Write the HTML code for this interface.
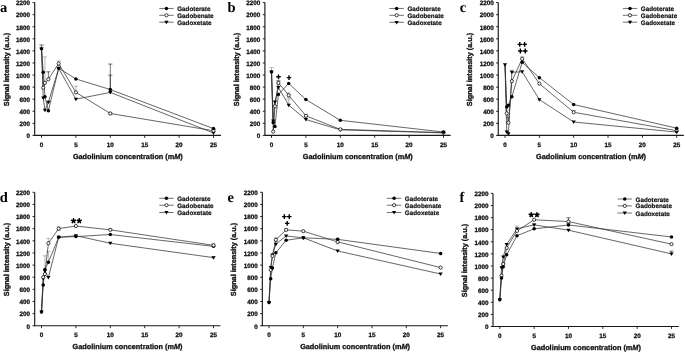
<!DOCTYPE html>
<html><head><meta charset="utf-8"><style>
html,body{margin:0;padding:0;background:#fff;}
body{width:685px;height:352px;overflow:hidden;}
svg{display:block;will-change:transform;text-rendering:geometricPrecision;}
.tk{font:bold 6.3px 'Liberation Sans', sans-serif;fill:#111;stroke:#111;stroke-width:0.28px;}
.ti{font:bold 7.3px 'Liberation Sans', sans-serif;fill:#111;stroke:#111;stroke-width:0.3px;}
.lg{font:bold 6.3px 'Liberation Sans', sans-serif;fill:#111;stroke:#111;stroke-width:0.2px;}
.pl{font:bold 14.5px 'Liberation Serif', serif;fill:#000;}
</style></head><body>
<svg width="685" height="352" viewBox="0 0 685 352">
<rect width="685" height="352" fill="#fff"/>
<g><path d="M41.50,48.78V44.98M39.40,44.98H43.60" stroke="#333" stroke-width="0.7" fill="none"/><path d="M44.94,82.88V56.93M42.84,56.93H47.04" stroke="#999" stroke-width="0.7" fill="none"/><path d="M48.38,79.26V71.84M46.28,71.84H50.48" stroke="#333" stroke-width="0.7" fill="none"/><path d="M58.70,63.57V60.97M56.60,60.97H60.80" stroke="#999" stroke-width="0.7" fill="none"/><path d="M58.70,63.57V65.98M56.60,65.98H60.80" stroke="#999" stroke-width="0.7" fill="none"/><path d="M75.90,92.36V86.08M73.80,86.08H78.00" stroke="#999" stroke-width="0.7" fill="none"/><path d="M110.30,89.52V64.05M108.20,64.05H112.40" stroke="#333" stroke-width="0.7" fill="none"/><path d="M110.30,92.42V75.16M108.20,75.16H112.40" stroke="#333" stroke-width="0.7" fill="none"/><path d="M110.30,113.49V112.28M108.20,112.28H112.40" stroke="#999" stroke-width="0.7" fill="none"/><path d="M110.30,113.49V114.70M108.20,114.70H112.40" stroke="#999" stroke-width="0.7" fill="none"/><path d="M213.50,130.75V129.36M211.40,129.36H215.60" stroke="#333" stroke-width="0.7" fill="none"/><polyline points="41.50,48.78 43.22,97.97 44.94,110.05 48.38,102.14 58.70,68.40 75.90,99.18 110.30,92.42 213.50,132.99" fill="none" stroke="#2b2b2b" stroke-width="0.72"/><polyline points="41.50,48.78 43.22,87.71 44.94,82.88 48.38,79.26 58.70,63.57 75.90,92.36 110.30,113.49 213.50,130.75" fill="none" stroke="#2b2b2b" stroke-width="0.72"/><polyline points="41.50,48.78 43.22,72.32 44.94,96.77 48.38,110.65 58.70,68.22 75.90,78.96 110.30,89.52 213.50,128.58" fill="none" stroke="#2b2b2b" stroke-width="0.72"/><path d="M41.12,96.57L45.32,96.57L43.22,100.07Z" fill="#000"/><path d="M42.84,108.65L47.04,108.65L44.94,112.15Z" fill="#000"/><path d="M46.28,100.74L50.48,100.74L48.38,104.24Z" fill="#000"/><path d="M56.60,67.00L60.80,67.00L58.70,70.50Z" fill="#000"/><path d="M73.80,97.78L78.00,97.78L75.90,101.28Z" fill="#000"/><path d="M108.20,91.02L112.40,91.02L110.30,94.52Z" fill="#000"/><path d="M211.40,131.59L215.60,131.59L213.50,135.09Z" fill="#000"/><circle cx="43.22" cy="87.71" r="1.6" fill="#fff" stroke="#000" stroke-width="0.75"/><circle cx="44.94" cy="82.88" r="1.6" fill="#fff" stroke="#000" stroke-width="0.75"/><circle cx="48.38" cy="79.26" r="1.6" fill="#fff" stroke="#000" stroke-width="0.75"/><circle cx="58.70" cy="63.57" r="1.6" fill="#fff" stroke="#000" stroke-width="0.75"/><circle cx="75.90" cy="92.36" r="1.6" fill="#fff" stroke="#000" stroke-width="0.75"/><circle cx="110.30" cy="113.49" r="1.6" fill="#fff" stroke="#000" stroke-width="0.75"/><circle cx="213.50" cy="130.75" r="1.6" fill="#fff" stroke="#000" stroke-width="0.75"/><circle cx="43.22" cy="72.32" r="1.75" fill="#000"/><circle cx="44.94" cy="96.77" r="1.75" fill="#000"/><circle cx="48.38" cy="110.65" r="1.75" fill="#000"/><circle cx="58.70" cy="68.22" r="1.75" fill="#000"/><circle cx="75.90" cy="78.96" r="1.75" fill="#000"/><circle cx="110.30" cy="89.52" r="1.75" fill="#000"/><circle cx="213.50" cy="128.58" r="1.75" fill="#000"/><path d="M39.40,47.38L43.60,47.38L41.50,50.88Z" fill="#000"/><circle cx="41.50" cy="48.78" r="1.75" fill="#000"/><path d="M34.70,2.60V135.40H221.00" stroke="#1a1a1a" stroke-width="1.15" fill="none"/><path d="M32.50,135.40H34.70M32.50,123.33H34.70M32.50,111.25H34.70M32.50,99.18H34.70M32.50,87.11H34.70M32.50,75.04H34.70M32.50,62.96H34.70M32.50,50.89H34.70M32.50,38.82H34.70M32.50,26.75H34.70M32.50,14.67H34.70M32.50,2.60H34.70M41.50,135.40V137.80M75.90,135.40V137.80M110.30,135.40V137.80M144.70,135.40V137.80M179.10,135.40V137.80M213.50,135.40V137.80" stroke="#111" stroke-width="0.9" fill="none"/><text x="30.10" y="138.15" text-anchor="end" class="tk">0</text><text x="30.10" y="126.08" text-anchor="end" class="tk">200</text><text x="30.10" y="114.00" text-anchor="end" class="tk">400</text><text x="30.10" y="101.93" text-anchor="end" class="tk">600</text><text x="30.10" y="89.86" text-anchor="end" class="tk">800</text><text x="30.10" y="77.79" text-anchor="end" class="tk">1000</text><text x="30.10" y="65.71" text-anchor="end" class="tk">1200</text><text x="30.10" y="53.64" text-anchor="end" class="tk">1400</text><text x="30.10" y="41.57" text-anchor="end" class="tk">1600</text><text x="30.10" y="29.50" text-anchor="end" class="tk">1800</text><text x="30.10" y="17.42" text-anchor="end" class="tk">2000</text><text x="30.10" y="5.35" text-anchor="end" class="tk">2200</text><text x="41.50" y="146.70" text-anchor="middle" class="tk">0</text><text x="75.90" y="146.70" text-anchor="middle" class="tk">5</text><text x="110.30" y="146.70" text-anchor="middle" class="tk">10</text><text x="144.70" y="146.70" text-anchor="middle" class="tk">15</text><text x="179.10" y="146.70" text-anchor="middle" class="tk">20</text><text x="213.50" y="146.70" text-anchor="middle" class="tk">25</text><text x="127.85" y="159.00" text-anchor="middle" class="ti">Gadolinium concentration (m<tspan font-style="italic">M</tspan>)</text><text transform="translate(9.40,69.50) rotate(-90)" text-anchor="middle" class="ti">Signal intensity (a.u.)</text><text x="0.00" y="12.00" class="pl">a</text><path d="M159.25,8.45H173.65" stroke="#333" stroke-width="0.7"/><circle cx="166.45" cy="8.45" r="1.75" fill="#000"/><text x="177.20" y="10.95" class="lg">Gadoterate</text><path d="M159.25,15.30H173.65" stroke="#333" stroke-width="0.7"/><circle cx="166.45" cy="15.30" r="1.6" fill="#fff" stroke="#000" stroke-width="0.75"/><text x="177.20" y="17.80" class="lg">Gadobenate</text><path d="M159.25,22.20H173.65" stroke="#333" stroke-width="0.7"/><path d="M164.35,20.80L168.55,20.80L166.45,24.30Z" fill="#000"/><text x="177.20" y="24.70" class="lg">Gadoxetate</text></g><g><path d="M271.50,71.96V67.55M269.40,67.55H273.60" stroke="#999" stroke-width="0.7" fill="none"/><path d="M278.38,82.82V80.77M276.28,80.77H280.48" stroke="#333" stroke-width="0.7" fill="none"/><path d="M278.38,82.82V84.94M276.28,84.94H280.48" stroke="#999" stroke-width="0.7" fill="none"/><path d="M288.70,95.32V92.90M286.60,92.90H290.80" stroke="#999" stroke-width="0.7" fill="none"/><path d="M288.70,95.32V97.73M286.60,97.73H290.80" stroke="#999" stroke-width="0.7" fill="none"/><path d="M288.70,105.10V99.18M286.60,99.18H290.80" stroke="#999" stroke-width="0.7" fill="none"/><path d="M305.90,115.84V114.63M303.80,114.63H308.00" stroke="#999" stroke-width="0.7" fill="none"/><path d="M305.90,115.84V117.05M303.80,117.05H308.00" stroke="#999" stroke-width="0.7" fill="none"/><polyline points="271.50,71.96 273.22,120.91 274.94,101.84 278.38,87.41 288.70,105.10 305.90,119.52 340.30,129.85 443.50,132.86" fill="none" stroke="#2b2b2b" stroke-width="0.72"/><polyline points="271.50,71.96 273.22,131.60 274.94,106.30 278.38,82.82 288.70,95.32 305.90,115.84 340.30,129.36 443.50,132.62" fill="none" stroke="#2b2b2b" stroke-width="0.72"/><polyline points="271.50,71.96 273.22,122.54 274.94,126.59 278.38,94.41 288.70,83.43 305.90,99.60 340.30,120.31 443.50,132.02" fill="none" stroke="#2b2b2b" stroke-width="0.72"/><path d="M271.12,119.51L275.32,119.51L273.22,123.01Z" fill="#000"/><path d="M272.84,100.44L277.04,100.44L274.94,103.94Z" fill="#000"/><path d="M276.28,86.01L280.48,86.01L278.38,89.51Z" fill="#000"/><path d="M286.60,103.70L290.80,103.70L288.70,107.20Z" fill="#000"/><path d="M303.80,118.12L308.00,118.12L305.90,121.62Z" fill="#000"/><path d="M338.20,128.45L342.40,128.45L340.30,131.95Z" fill="#000"/><path d="M441.40,131.46L445.60,131.46L443.50,134.96Z" fill="#000"/><circle cx="273.22" cy="131.60" r="1.6" fill="#fff" stroke="#000" stroke-width="0.75"/><circle cx="274.94" cy="106.30" r="1.6" fill="#fff" stroke="#000" stroke-width="0.75"/><circle cx="278.38" cy="82.82" r="1.6" fill="#fff" stroke="#000" stroke-width="0.75"/><circle cx="288.70" cy="95.32" r="1.6" fill="#fff" stroke="#000" stroke-width="0.75"/><circle cx="305.90" cy="115.84" r="1.6" fill="#fff" stroke="#000" stroke-width="0.75"/><circle cx="340.30" cy="129.36" r="1.6" fill="#fff" stroke="#000" stroke-width="0.75"/><circle cx="443.50" cy="132.62" r="1.6" fill="#fff" stroke="#000" stroke-width="0.75"/><circle cx="273.22" cy="122.54" r="1.75" fill="#000"/><circle cx="274.94" cy="126.59" r="1.75" fill="#000"/><circle cx="278.38" cy="94.41" r="1.75" fill="#000"/><circle cx="288.70" cy="83.43" r="1.75" fill="#000"/><circle cx="305.90" cy="99.60" r="1.75" fill="#000"/><circle cx="340.30" cy="120.31" r="1.75" fill="#000"/><circle cx="443.50" cy="132.02" r="1.75" fill="#000"/><path d="M269.40,70.56L273.60,70.56L271.50,74.06Z" fill="#000"/><circle cx="271.50" cy="71.96" r="1.75" fill="#000"/><path d="M264.90,2.60V135.40H450.60" stroke="#1a1a1a" stroke-width="1.15" fill="none"/><path d="M262.70,135.40H264.90M262.70,123.33H264.90M262.70,111.25H264.90M262.70,99.18H264.90M262.70,87.11H264.90M262.70,75.04H264.90M262.70,62.96H264.90M262.70,50.89H264.90M262.70,38.82H264.90M262.70,26.75H264.90M262.70,14.67H264.90M262.70,2.60H264.90M271.50,135.40V137.80M305.90,135.40V137.80M340.30,135.40V137.80M374.70,135.40V137.80M409.10,135.40V137.80M443.50,135.40V137.80" stroke="#111" stroke-width="0.9" fill="none"/><text x="260.30" y="138.15" text-anchor="end" class="tk">0</text><text x="260.30" y="126.08" text-anchor="end" class="tk">200</text><text x="260.30" y="114.00" text-anchor="end" class="tk">400</text><text x="260.30" y="101.93" text-anchor="end" class="tk">600</text><text x="260.30" y="89.86" text-anchor="end" class="tk">800</text><text x="260.30" y="77.79" text-anchor="end" class="tk">1000</text><text x="260.30" y="65.71" text-anchor="end" class="tk">1200</text><text x="260.30" y="53.64" text-anchor="end" class="tk">1400</text><text x="260.30" y="41.57" text-anchor="end" class="tk">1600</text><text x="260.30" y="29.50" text-anchor="end" class="tk">1800</text><text x="260.30" y="17.42" text-anchor="end" class="tk">2000</text><text x="260.30" y="5.35" text-anchor="end" class="tk">2200</text><text x="271.50" y="146.70" text-anchor="middle" class="tk">0</text><text x="305.90" y="146.70" text-anchor="middle" class="tk">5</text><text x="340.30" y="146.70" text-anchor="middle" class="tk">10</text><text x="374.70" y="146.70" text-anchor="middle" class="tk">15</text><text x="409.10" y="146.70" text-anchor="middle" class="tk">20</text><text x="443.50" y="146.70" text-anchor="middle" class="tk">25</text><text x="357.75" y="159.00" text-anchor="middle" class="ti">Gadolinium concentration (m<tspan font-style="italic">M</tspan>)</text><text transform="translate(238.60,69.50) rotate(-90)" text-anchor="middle" class="ti">Signal intensity (a.u.)</text><text x="227.60" y="12.00" class="pl">b</text><path d="M389.45,8.45H403.85" stroke="#333" stroke-width="0.7"/><circle cx="396.65" cy="8.45" r="1.75" fill="#000"/><text x="407.40" y="10.95" class="lg">Gadoterate</text><path d="M389.45,15.30H403.85" stroke="#333" stroke-width="0.7"/><circle cx="396.65" cy="15.30" r="1.6" fill="#fff" stroke="#000" stroke-width="0.75"/><text x="407.40" y="17.80" class="lg">Gadobenate</text><path d="M389.45,22.30H403.85" stroke="#333" stroke-width="0.7"/><path d="M394.55,20.90L398.75,20.90L396.65,24.40Z" fill="#000"/><text x="407.40" y="24.80" class="lg">Gadoxetate</text><path d="M276.25,76.80H280.75M278.50,74.40V79.20" stroke="#000" stroke-width="1.4"/><path d="M286.75,77.60H291.25M289.00,75.20V80.00" stroke="#000" stroke-width="1.4"/></g><g><path d="M522.17,58.74V56.93M520.07,56.93H524.27" stroke="#999" stroke-width="0.7" fill="none"/><path d="M508.43,122.72V117.29M506.33,117.29H510.53" stroke="#999" stroke-width="0.7" fill="none"/><path d="M506.72,113.37V110.05M504.62,110.05H508.82" stroke="#999" stroke-width="0.7" fill="none"/><path d="M511.87,72.26V70.21M509.77,70.21H513.97" stroke="#999" stroke-width="0.7" fill="none"/><path d="M573.68,112.28V110.47M571.58,110.47H575.78" stroke="#999" stroke-width="0.7" fill="none"/><polyline points="505.00,64.65 506.72,131.90 508.43,133.71 511.87,72.26 522.17,71.72 539.34,99.54 573.68,122.00 676.70,132.08" fill="none" stroke="#2b2b2b" stroke-width="0.72"/><polyline points="505.00,64.65 506.72,113.37 508.43,122.72 511.87,81.13 522.17,58.74 539.34,83.61 573.68,112.28 676.70,130.69" fill="none" stroke="#2b2b2b" stroke-width="0.72"/><polyline points="505.00,64.65 506.72,106.91 508.43,105.22 511.87,96.71 522.17,62.36 539.34,77.63 573.68,104.55 676.70,128.16" fill="none" stroke="#2b2b2b" stroke-width="0.72"/><circle cx="506.72" cy="113.37" r="1.6" fill="#fff" stroke="#000" stroke-width="0.75"/><circle cx="508.43" cy="122.72" r="1.6" fill="#fff" stroke="#000" stroke-width="0.75"/><circle cx="511.87" cy="81.13" r="1.6" fill="#fff" stroke="#000" stroke-width="0.75"/><circle cx="522.17" cy="58.74" r="1.6" fill="#fff" stroke="#000" stroke-width="0.75"/><circle cx="539.34" cy="83.61" r="1.6" fill="#fff" stroke="#000" stroke-width="0.75"/><circle cx="573.68" cy="112.28" r="1.6" fill="#fff" stroke="#000" stroke-width="0.75"/><circle cx="676.70" cy="130.69" r="1.6" fill="#fff" stroke="#000" stroke-width="0.75"/><circle cx="506.72" cy="106.91" r="1.75" fill="#000"/><circle cx="508.43" cy="105.22" r="1.75" fill="#000"/><circle cx="511.87" cy="96.71" r="1.75" fill="#000"/><circle cx="522.17" cy="62.36" r="1.75" fill="#000"/><circle cx="539.34" cy="77.63" r="1.75" fill="#000"/><circle cx="573.68" cy="104.55" r="1.75" fill="#000"/><circle cx="676.70" cy="128.16" r="1.75" fill="#000"/><path d="M504.62,130.50L508.82,130.50L506.72,134.00Z" fill="#000"/><path d="M506.33,132.31L510.53,132.31L508.43,135.81Z" fill="#000"/><path d="M509.77,70.86L513.97,70.86L511.87,74.36Z" fill="#000"/><path d="M520.07,70.32L524.27,70.32L522.17,73.82Z" fill="#000"/><path d="M537.24,98.14L541.44,98.14L539.34,101.64Z" fill="#000"/><path d="M571.58,120.60L575.78,120.60L573.68,124.10Z" fill="#000"/><path d="M674.60,130.68L678.80,130.68L676.70,134.18Z" fill="#000"/><path d="M502.90,63.25L507.10,63.25L505.00,66.75Z" fill="#000"/><path d="M498.27,2.60V135.40H683.80" stroke="#1a1a1a" stroke-width="1.15" fill="none"/><path d="M496.07,135.40H498.27M496.07,123.33H498.27M496.07,111.25H498.27M496.07,99.18H498.27M496.07,87.11H498.27M496.07,75.04H498.27M496.07,62.96H498.27M496.07,50.89H498.27M496.07,38.82H498.27M496.07,26.75H498.27M496.07,14.67H498.27M496.07,2.60H498.27M505.00,135.40V137.80M539.34,135.40V137.80M573.68,135.40V137.80M608.02,135.40V137.80M642.36,135.40V137.80M676.70,135.40V137.80" stroke="#111" stroke-width="0.9" fill="none"/><text x="493.67" y="138.15" text-anchor="end" class="tk">0</text><text x="493.67" y="126.08" text-anchor="end" class="tk">200</text><text x="493.67" y="114.00" text-anchor="end" class="tk">400</text><text x="493.67" y="101.93" text-anchor="end" class="tk">600</text><text x="493.67" y="89.86" text-anchor="end" class="tk">800</text><text x="493.67" y="77.79" text-anchor="end" class="tk">1000</text><text x="493.67" y="65.71" text-anchor="end" class="tk">1200</text><text x="493.67" y="53.64" text-anchor="end" class="tk">1400</text><text x="493.67" y="41.57" text-anchor="end" class="tk">1600</text><text x="493.67" y="29.50" text-anchor="end" class="tk">1800</text><text x="493.67" y="17.42" text-anchor="end" class="tk">2000</text><text x="493.67" y="5.35" text-anchor="end" class="tk">2200</text><text x="505.00" y="146.70" text-anchor="middle" class="tk">0</text><text x="539.34" y="146.70" text-anchor="middle" class="tk">5</text><text x="573.68" y="146.70" text-anchor="middle" class="tk">10</text><text x="608.02" y="146.70" text-anchor="middle" class="tk">15</text><text x="642.36" y="146.70" text-anchor="middle" class="tk">20</text><text x="676.70" y="146.70" text-anchor="middle" class="tk">25</text><text x="591.03" y="159.00" text-anchor="middle" class="ti">Gadolinium concentration (m<tspan font-style="italic">M</tspan>)</text><text transform="translate(472.47,69.50) rotate(-90)" text-anchor="middle" class="ti">Signal intensity (a.u.)</text><text x="459.80" y="11.50" class="pl">c</text><path d="M622.82,8.45H637.22" stroke="#333" stroke-width="0.7"/><circle cx="630.02" cy="8.45" r="1.75" fill="#000"/><text x="640.77" y="10.95" class="lg">Gadoterate</text><path d="M622.82,15.30H637.22" stroke="#333" stroke-width="0.7"/><circle cx="630.02" cy="15.30" r="1.6" fill="#fff" stroke="#000" stroke-width="0.75"/><text x="640.77" y="17.80" class="lg">Gadobenate</text><path d="M622.82,22.20H637.22" stroke="#333" stroke-width="0.7"/><path d="M627.92,20.80L632.12,20.80L630.02,24.30Z" fill="#000"/><text x="640.77" y="24.70" class="lg">Gadoxetate</text><path d="M517.50,44.40H522.00M519.75,42.00V46.80" stroke="#000" stroke-width="1.4"/><path d="M522.40,44.40H526.90M524.65,42.00V46.80" stroke="#000" stroke-width="1.4"/><path d="M518.10,51.00H522.60M520.35,48.60V53.40" stroke="#000" stroke-width="1.4"/><path d="M523.00,51.00H527.50M525.25,48.60V53.40" stroke="#000" stroke-width="1.4"/></g><g><path d="M48.38,243.25V238.40M46.28,238.40H50.48" stroke="#999" stroke-width="0.7" fill="none"/><path d="M58.70,228.63V226.88M56.60,226.88H60.80" stroke="#999" stroke-width="0.7" fill="none"/><path d="M58.70,228.63V230.45M56.60,230.45H60.80" stroke="#999" stroke-width="0.7" fill="none"/><path d="M44.94,269.46V255.81M42.84,255.81H47.04" stroke="#999" stroke-width="0.7" fill="none"/><path d="M48.38,262.30V251.62M46.28,251.62H50.48" stroke="#999" stroke-width="0.7" fill="none"/><path d="M110.30,229.85V228.70M108.20,228.70H112.40" stroke="#999" stroke-width="0.7" fill="none"/><path d="M213.50,245.32V243.86M211.40,243.86H215.60" stroke="#999" stroke-width="0.7" fill="none"/><path d="M213.50,245.32V246.53M211.40,246.53H215.60" stroke="#999" stroke-width="0.7" fill="none"/><path d="M213.50,257.63V256.42M211.40,256.42H215.60" stroke="#999" stroke-width="0.7" fill="none"/><polyline points="41.50,311.92 43.22,278.44 44.94,271.16 48.38,277.47 58.70,237.25 75.90,235.73 110.30,243.25 213.50,257.63" fill="none" stroke="#2b2b2b" stroke-width="0.72"/><polyline points="41.50,311.92 43.22,277.22 44.94,274.07 48.38,243.25 58.70,228.63 75.90,226.03 110.30,229.85 213.50,245.32" fill="none" stroke="#2b2b2b" stroke-width="0.72"/><polyline points="41.50,311.92 43.22,285.05 44.94,269.46 48.38,262.30 58.70,237.25 75.90,236.58 110.30,234.52 213.50,246.35" fill="none" stroke="#2b2b2b" stroke-width="0.72"/><circle cx="43.22" cy="285.05" r="1.75" fill="#000"/><circle cx="44.94" cy="269.46" r="1.75" fill="#000"/><circle cx="48.38" cy="262.30" r="1.75" fill="#000"/><circle cx="58.70" cy="237.25" r="1.75" fill="#000"/><circle cx="75.90" cy="236.58" r="1.75" fill="#000"/><circle cx="110.30" cy="234.52" r="1.75" fill="#000"/><circle cx="213.50" cy="246.35" r="1.75" fill="#000"/><path d="M41.12,277.04L45.32,277.04L43.22,280.54Z" fill="#000"/><path d="M42.84,269.76L47.04,269.76L44.94,273.26Z" fill="#000"/><path d="M46.28,276.07L50.48,276.07L48.38,279.57Z" fill="#000"/><path d="M56.60,235.85L60.80,235.85L58.70,239.35Z" fill="#000"/><path d="M73.80,234.33L78.00,234.33L75.90,237.83Z" fill="#000"/><path d="M108.20,241.85L112.40,241.85L110.30,245.35Z" fill="#000"/><path d="M211.40,256.23L215.60,256.23L213.50,259.73Z" fill="#000"/><circle cx="43.22" cy="277.22" r="1.6" fill="#fff" stroke="#000" stroke-width="0.75"/><circle cx="44.94" cy="274.07" r="1.6" fill="#fff" stroke="#000" stroke-width="0.75"/><circle cx="48.38" cy="243.25" r="1.6" fill="#fff" stroke="#000" stroke-width="0.75"/><circle cx="58.70" cy="228.63" r="1.6" fill="#fff" stroke="#000" stroke-width="0.75"/><circle cx="75.90" cy="226.03" r="1.6" fill="#fff" stroke="#000" stroke-width="0.75"/><circle cx="110.30" cy="229.85" r="1.6" fill="#fff" stroke="#000" stroke-width="0.75"/><circle cx="213.50" cy="245.32" r="1.6" fill="#fff" stroke="#000" stroke-width="0.75"/><circle cx="41.50" cy="311.92" r="1.75" fill="#000"/><path d="M39.40,310.52L43.60,310.52L41.50,314.02Z" fill="#000"/><path d="M34.70,192.30V325.75H220.40" stroke="#1a1a1a" stroke-width="1.15" fill="none"/><path d="M32.50,325.75H34.70M32.50,313.62H34.70M32.50,301.49H34.70M32.50,289.35H34.70M32.50,277.22H34.70M32.50,265.09H34.70M32.50,252.96H34.70M32.50,240.83H34.70M32.50,228.70H34.70M32.50,216.56H34.70M32.50,204.43H34.70M32.50,192.30H34.70M41.50,325.75V328.15M75.90,325.75V328.15M110.30,325.75V328.15M144.70,325.75V328.15M179.10,325.75V328.15M213.50,325.75V328.15" stroke="#111" stroke-width="0.9" fill="none"/><text x="30.10" y="328.50" text-anchor="end" class="tk">0</text><text x="30.10" y="316.37" text-anchor="end" class="tk">200</text><text x="30.10" y="304.24" text-anchor="end" class="tk">400</text><text x="30.10" y="292.10" text-anchor="end" class="tk">600</text><text x="30.10" y="279.97" text-anchor="end" class="tk">800</text><text x="30.10" y="267.84" text-anchor="end" class="tk">1000</text><text x="30.10" y="255.71" text-anchor="end" class="tk">1200</text><text x="30.10" y="243.58" text-anchor="end" class="tk">1400</text><text x="30.10" y="231.45" text-anchor="end" class="tk">1600</text><text x="30.10" y="219.31" text-anchor="end" class="tk">1800</text><text x="30.10" y="207.18" text-anchor="end" class="tk">2000</text><text x="30.10" y="195.05" text-anchor="end" class="tk">2200</text><text x="41.50" y="337.05" text-anchor="middle" class="tk">0</text><text x="75.90" y="337.05" text-anchor="middle" class="tk">5</text><text x="110.30" y="337.05" text-anchor="middle" class="tk">10</text><text x="144.70" y="337.05" text-anchor="middle" class="tk">15</text><text x="179.10" y="337.05" text-anchor="middle" class="tk">20</text><text x="213.50" y="337.05" text-anchor="middle" class="tk">25</text><text x="127.55" y="349.35" text-anchor="middle" class="ti">Gadolinium concentration (m<tspan font-style="italic">M</tspan>)</text><text transform="translate(9.40,259.52) rotate(-90)" text-anchor="middle" class="ti">Signal intensity (a.u.)</text><text x="-0.30" y="202.20" class="pl">d</text><path d="M159.25,198.30H173.65" stroke="#333" stroke-width="0.7"/><circle cx="166.45" cy="198.30" r="1.75" fill="#000"/><text x="177.20" y="200.80" class="lg">Gadoterate</text><path d="M159.25,205.20H173.65" stroke="#333" stroke-width="0.7"/><circle cx="166.45" cy="205.20" r="1.6" fill="#fff" stroke="#000" stroke-width="0.75"/><text x="177.20" y="207.70" class="lg">Gadobenate</text><path d="M159.25,212.50H173.65" stroke="#333" stroke-width="0.7"/><path d="M164.35,211.10L168.55,211.10L166.45,214.60Z" fill="#000"/><text x="177.20" y="215.00" class="lg">Gadoxetate</text><path d="M73.55,220.90L73.55,218.85M73.55,220.90L75.50,220.27M73.55,220.90L74.75,222.56M73.55,220.90L72.35,222.56M73.55,220.90L71.60,220.27" stroke="#000" stroke-width="1.6" stroke-linecap="round" fill="none"/><path d="M79.25,220.90L79.25,218.85M79.25,220.90L81.20,220.27M79.25,220.90L80.45,222.56M79.25,220.90L78.05,222.56M79.25,220.90L77.30,220.27" stroke="#000" stroke-width="1.6" stroke-linecap="round" fill="none"/></g><g><path d="M337.64,241.86V238.40M335.54,238.40H339.74" stroke="#999" stroke-width="0.7" fill="none"/><path d="M337.64,241.86V243.86M335.54,243.86H339.74" stroke="#999" stroke-width="0.7" fill="none"/><path d="M275.86,239.80V237.79M273.76,237.79H277.96" stroke="#999" stroke-width="0.7" fill="none"/><path d="M275.86,239.80V241.62M273.76,241.62H277.96" stroke="#999" stroke-width="0.7" fill="none"/><path d="M286.16,229.85V228.70M284.06,228.70H288.26" stroke="#999" stroke-width="0.7" fill="none"/><polyline points="269.00,302.46 270.72,267.40 272.43,254.90 275.86,244.04 286.16,235.97 303.32,237.79 337.64,250.96 440.60,274.01" fill="none" stroke="#2b2b2b" stroke-width="0.72"/><polyline points="269.00,302.46 270.72,269.94 272.43,255.99 275.86,239.80 286.16,229.85 303.32,231.18 337.64,241.86 440.60,267.58" fill="none" stroke="#2b2b2b" stroke-width="0.72"/><polyline points="269.00,302.46 270.72,278.74 272.43,267.88 275.86,252.78 286.16,240.28 303.32,237.79 337.64,239.37 440.60,253.44" fill="none" stroke="#2b2b2b" stroke-width="0.72"/><path d="M268.62,266.00L272.82,266.00L270.72,269.50Z" fill="#000"/><path d="M270.33,253.50L274.53,253.50L272.43,257.00Z" fill="#000"/><path d="M273.76,242.64L277.96,242.64L275.86,246.14Z" fill="#000"/><path d="M284.06,234.57L288.26,234.57L286.16,238.07Z" fill="#000"/><path d="M301.22,236.39L305.42,236.39L303.32,239.89Z" fill="#000"/><path d="M335.54,249.56L339.74,249.56L337.64,253.06Z" fill="#000"/><path d="M438.50,272.61L442.70,272.61L440.60,276.11Z" fill="#000"/><circle cx="270.72" cy="269.94" r="1.6" fill="#fff" stroke="#000" stroke-width="0.75"/><circle cx="272.43" cy="255.99" r="1.6" fill="#fff" stroke="#000" stroke-width="0.75"/><circle cx="275.86" cy="239.80" r="1.6" fill="#fff" stroke="#000" stroke-width="0.75"/><circle cx="286.16" cy="229.85" r="1.6" fill="#fff" stroke="#000" stroke-width="0.75"/><circle cx="303.32" cy="231.18" r="1.6" fill="#fff" stroke="#000" stroke-width="0.75"/><circle cx="337.64" cy="241.86" r="1.6" fill="#fff" stroke="#000" stroke-width="0.75"/><circle cx="440.60" cy="267.58" r="1.6" fill="#fff" stroke="#000" stroke-width="0.75"/><circle cx="270.72" cy="278.74" r="1.75" fill="#000"/><circle cx="272.43" cy="267.88" r="1.75" fill="#000"/><circle cx="275.86" cy="252.78" r="1.75" fill="#000"/><circle cx="286.16" cy="240.28" r="1.75" fill="#000"/><circle cx="303.32" cy="237.79" r="1.75" fill="#000"/><circle cx="337.64" cy="239.37" r="1.75" fill="#000"/><circle cx="440.60" cy="253.44" r="1.75" fill="#000"/><path d="M266.90,301.06L271.10,301.06L269.00,304.56Z" fill="#000"/><circle cx="269.00" cy="302.46" r="1.75" fill="#000"/><path d="M262.35,192.30V325.75H447.80" stroke="#1a1a1a" stroke-width="1.15" fill="none"/><path d="M260.15,325.75H262.35M260.15,313.62H262.35M260.15,301.49H262.35M260.15,289.35H262.35M260.15,277.22H262.35M260.15,265.09H262.35M260.15,252.96H262.35M260.15,240.83H262.35M260.15,228.70H262.35M260.15,216.56H262.35M260.15,204.43H262.35M260.15,192.30H262.35M269.00,325.75V328.15M303.32,325.75V328.15M337.64,325.75V328.15M371.96,325.75V328.15M406.28,325.75V328.15M440.60,325.75V328.15" stroke="#111" stroke-width="0.9" fill="none"/><text x="257.75" y="328.50" text-anchor="end" class="tk">0</text><text x="257.75" y="316.37" text-anchor="end" class="tk">200</text><text x="257.75" y="304.24" text-anchor="end" class="tk">400</text><text x="257.75" y="292.10" text-anchor="end" class="tk">600</text><text x="257.75" y="279.97" text-anchor="end" class="tk">800</text><text x="257.75" y="267.84" text-anchor="end" class="tk">1000</text><text x="257.75" y="255.71" text-anchor="end" class="tk">1200</text><text x="257.75" y="243.58" text-anchor="end" class="tk">1400</text><text x="257.75" y="231.45" text-anchor="end" class="tk">1600</text><text x="257.75" y="219.31" text-anchor="end" class="tk">1800</text><text x="257.75" y="207.18" text-anchor="end" class="tk">2000</text><text x="257.75" y="195.05" text-anchor="end" class="tk">2200</text><text x="269.00" y="337.05" text-anchor="middle" class="tk">0</text><text x="303.32" y="337.05" text-anchor="middle" class="tk">5</text><text x="337.64" y="337.05" text-anchor="middle" class="tk">10</text><text x="371.96" y="337.05" text-anchor="middle" class="tk">15</text><text x="406.28" y="337.05" text-anchor="middle" class="tk">20</text><text x="440.60" y="337.05" text-anchor="middle" class="tk">25</text><text x="355.08" y="349.35" text-anchor="middle" class="ti">Gadolinium concentration (m<tspan font-style="italic">M</tspan>)</text><text transform="translate(236.05,259.52) rotate(-90)" text-anchor="middle" class="ti">Signal intensity (a.u.)</text><text x="227.60" y="202.20" class="pl">e</text><path d="M386.90,198.30H401.30" stroke="#333" stroke-width="0.7"/><circle cx="394.10" cy="198.30" r="1.75" fill="#000"/><text x="404.85" y="200.80" class="lg">Gadoterate</text><path d="M386.90,205.20H401.30" stroke="#333" stroke-width="0.7"/><circle cx="394.10" cy="205.20" r="1.6" fill="#fff" stroke="#000" stroke-width="0.75"/><text x="404.85" y="207.70" class="lg">Gadobenate</text><path d="M386.90,212.50H401.30" stroke="#333" stroke-width="0.7"/><path d="M392.00,211.10L396.20,211.10L394.10,214.60Z" fill="#000"/><text x="404.85" y="215.00" class="lg">Gadoxetate</text><path d="M282.10,216.60H286.60M284.35,214.20V219.00" stroke="#000" stroke-width="1.4"/><path d="M287.00,216.60H291.50M289.25,214.20V219.00" stroke="#000" stroke-width="1.4"/><path d="M284.95,223.40H289.45M287.20,221.00V225.80" stroke="#000" stroke-width="1.4"/></g><g><path d="M568.48,221.59V217.72M566.38,217.72H570.58" stroke="#333" stroke-width="0.7" fill="none"/><path d="M568.48,221.59V223.65M566.38,223.65H570.58" stroke="#333" stroke-width="0.7" fill="none"/><path d="M671.50,253.90V251.18M669.40,251.18H673.60" stroke="#333" stroke-width="0.7" fill="none"/><path d="M516.97,228.85V226.07M514.87,226.07H519.07" stroke="#999" stroke-width="0.7" fill="none"/><path d="M534.14,224.86V223.65M532.04,223.65H536.24" stroke="#999" stroke-width="0.7" fill="none"/><polyline points="499.80,299.70 501.52,267.75 503.23,256.93 506.67,244.46 516.97,228.85 534.14,224.86 568.48,230.18 671.50,253.90" fill="none" stroke="#2b2b2b" stroke-width="0.72"/><polyline points="499.80,299.70 501.52,275.68 503.23,264.06 506.67,247.97 516.97,230.91 534.14,219.78 568.48,221.59 671.50,244.16" fill="none" stroke="#2b2b2b" stroke-width="0.72"/><polyline points="499.80,299.70 501.52,277.98 503.23,266.67 506.67,254.75 516.97,235.69 534.14,228.85 568.48,224.98 671.50,236.96" fill="none" stroke="#2b2b2b" stroke-width="0.72"/><path d="M499.42,266.35L503.62,266.35L501.52,269.85Z" fill="#000"/><path d="M501.13,255.53L505.33,255.53L503.23,259.03Z" fill="#000"/><path d="M504.57,243.06L508.77,243.06L506.67,246.56Z" fill="#000"/><path d="M514.87,227.45L519.07,227.45L516.97,230.95Z" fill="#000"/><path d="M532.04,223.46L536.24,223.46L534.14,226.96Z" fill="#000"/><path d="M566.38,228.78L570.58,228.78L568.48,232.28Z" fill="#000"/><path d="M669.40,252.50L673.60,252.50L671.50,256.00Z" fill="#000"/><circle cx="501.52" cy="275.68" r="1.6" fill="#fff" stroke="#000" stroke-width="0.75"/><circle cx="503.23" cy="264.06" r="1.6" fill="#fff" stroke="#000" stroke-width="0.75"/><circle cx="506.67" cy="247.97" r="1.6" fill="#fff" stroke="#000" stroke-width="0.75"/><circle cx="516.97" cy="230.91" r="1.6" fill="#fff" stroke="#000" stroke-width="0.75"/><circle cx="534.14" cy="219.78" r="1.6" fill="#fff" stroke="#000" stroke-width="0.75"/><circle cx="568.48" cy="221.59" r="1.6" fill="#fff" stroke="#000" stroke-width="0.75"/><circle cx="671.50" cy="244.16" r="1.6" fill="#fff" stroke="#000" stroke-width="0.75"/><circle cx="501.52" cy="277.98" r="1.75" fill="#000"/><circle cx="503.23" cy="266.67" r="1.75" fill="#000"/><circle cx="506.67" cy="254.75" r="1.75" fill="#000"/><circle cx="516.97" cy="235.69" r="1.75" fill="#000"/><circle cx="534.14" cy="228.85" r="1.75" fill="#000"/><circle cx="568.48" cy="224.98" r="1.75" fill="#000"/><circle cx="671.50" cy="236.96" r="1.75" fill="#000"/><path d="M497.70,298.30L501.90,298.30L499.80,301.80Z" fill="#000"/><circle cx="499.80" cy="299.70" r="1.75" fill="#000"/><path d="M493.00,193.40V326.50H678.80" stroke="#1a1a1a" stroke-width="1.15" fill="none"/><path d="M490.80,326.50H493.00M490.80,314.40H493.00M490.80,302.30H493.00M490.80,290.20H493.00M490.80,278.10H493.00M490.80,266.00H493.00M490.80,253.90H493.00M490.80,241.80H493.00M490.80,229.70H493.00M490.80,217.60H493.00M490.80,205.50H493.00M490.80,193.40H493.00M499.80,326.50V328.90M534.14,326.50V328.90M568.48,326.50V328.90M602.82,326.50V328.90M637.16,326.50V328.90M671.50,326.50V328.90" stroke="#111" stroke-width="0.9" fill="none"/><text x="488.40" y="329.25" text-anchor="end" class="tk">0</text><text x="488.40" y="317.15" text-anchor="end" class="tk">200</text><text x="488.40" y="305.05" text-anchor="end" class="tk">400</text><text x="488.40" y="292.95" text-anchor="end" class="tk">600</text><text x="488.40" y="280.85" text-anchor="end" class="tk">800</text><text x="488.40" y="268.75" text-anchor="end" class="tk">1000</text><text x="488.40" y="256.65" text-anchor="end" class="tk">1200</text><text x="488.40" y="244.55" text-anchor="end" class="tk">1400</text><text x="488.40" y="232.45" text-anchor="end" class="tk">1600</text><text x="488.40" y="220.35" text-anchor="end" class="tk">1800</text><text x="488.40" y="208.25" text-anchor="end" class="tk">2000</text><text x="488.40" y="196.15" text-anchor="end" class="tk">2200</text><text x="499.80" y="337.80" text-anchor="middle" class="tk">0</text><text x="534.14" y="337.80" text-anchor="middle" class="tk">5</text><text x="568.48" y="337.80" text-anchor="middle" class="tk">10</text><text x="602.82" y="337.80" text-anchor="middle" class="tk">15</text><text x="637.16" y="337.80" text-anchor="middle" class="tk">20</text><text x="671.50" y="337.80" text-anchor="middle" class="tk">25</text><text x="585.90" y="350.10" text-anchor="middle" class="ti">Gadolinium concentration (m<tspan font-style="italic">M</tspan>)</text><text transform="translate(467.00,260.45) rotate(-90)" text-anchor="middle" class="ti">Signal intensity (a.u.)</text><text x="459.50" y="202.20" class="pl">f</text><path d="M617.55,199.00H631.95" stroke="#333" stroke-width="0.7"/><circle cx="624.75" cy="199.00" r="1.75" fill="#000"/><text x="635.50" y="201.50" class="lg">Gadoterate</text><path d="M617.55,205.90H631.95" stroke="#333" stroke-width="0.7"/><circle cx="624.75" cy="205.90" r="1.6" fill="#fff" stroke="#000" stroke-width="0.75"/><text x="635.50" y="208.40" class="lg">Gadobenate</text><path d="M617.55,213.00H631.95" stroke="#333" stroke-width="0.7"/><path d="M622.65,211.60L626.85,211.60L624.75,215.10Z" fill="#000"/><text x="635.50" y="215.50" class="lg">Gadoxetate</text><path d="M531.25,214.80L531.25,212.75M531.25,214.80L533.20,214.17M531.25,214.80L532.45,216.46M531.25,214.80L530.05,216.46M531.25,214.80L529.30,214.17" stroke="#000" stroke-width="1.6" stroke-linecap="round" fill="none"/><path d="M536.95,214.80L536.95,212.75M536.95,214.80L538.90,214.17M536.95,214.80L538.15,216.46M536.95,214.80L535.75,216.46M536.95,214.80L535.00,214.17" stroke="#000" stroke-width="1.6" stroke-linecap="round" fill="none"/></g>
</svg>
</body></html>
